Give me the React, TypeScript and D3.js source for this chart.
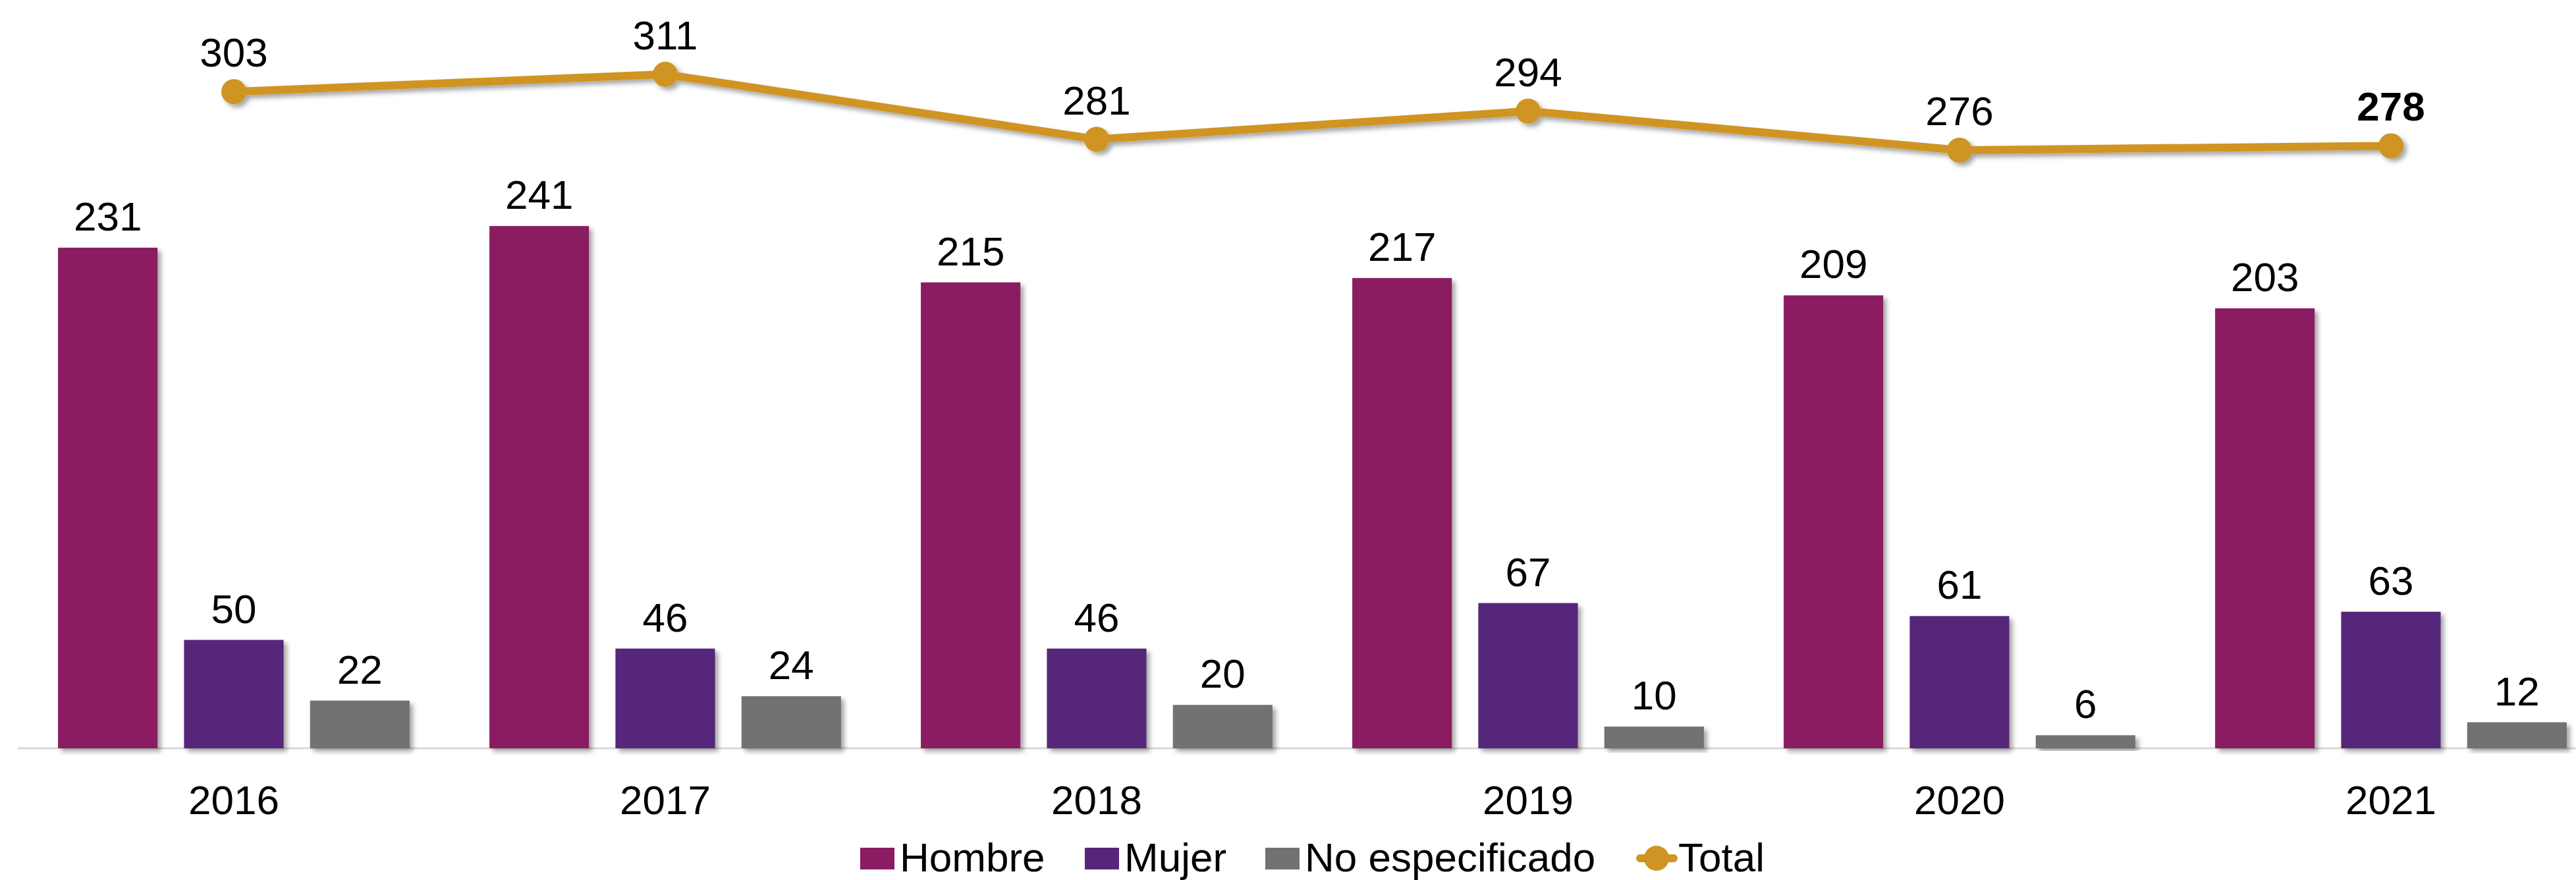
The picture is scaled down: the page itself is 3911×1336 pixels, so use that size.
import React from 'react'
import { scaleBand, scaleLinear, line } from 'd3'

const years = ['2016', '2017', '2018', '2019', '2020', '2021']
const hombre = [231, 241, 215, 217, 209, 203]
const mujer = [50, 46, 46, 67, 61, 63]
const noEspecificado = [22, 24, 20, 10, 6, 12]
const total = [303, 311, 281, 294, 276, 278]

const seriesKeys = ['Hombre', 'Mujer', 'No especificado']
const seriesValues = [hombre, mujer, noEspecificado]
const colors = ['#8B1C62', '#57267A', '#727272']
const totalColor = '#CF9424'

const W = 3911
const H = 1336
const FONT = '"Liberation Sans", Arial, sans-serif'

const App = () => {
    const baseline = 1136

    const yScale = scaleLinear()
        .domain([0, 345])
        .range([baseline, 1])

    // chart area runs a little past the right edge, like the original
    const x0 = scaleBand()
        .domain(years)
        .range([27.5, 27.5 + 655 * 6])
        .paddingInner(0.185)
        .paddingOuter(0.0925)

    const x1 = scaleBand()
        .domain(seriesKeys)
        .range([0, x0.bandwidth()])
        .paddingInner(0.21)

    const center = (year) => x0(year) + x0.bandwidth() / 2

    const totalLine = line()
        .x((d, i) => center(years[i]))
        .y(d => yScale(d))

    const legendItems = [
        { label: 'Hombre', x: 1306, color: colors[0] },
        { label: 'Mujer', x: 1647, color: colors[1] },
        { label: 'No especificado', x: 1921, color: colors[2] },
    ]

    return (
        <svg width={W} height={H} style={{ position: 'absolute', left: 0, top: 0, background: '#fff' }}>
            <defs>
                <filter id="shadow" x="-20%" y="-20%" width="140%" height="140%">
                    <feDropShadow dx="5" dy="5" stdDeviation="3.5" floodColor="#000" floodOpacity="0.35" />
                </filter>
            </defs>

            <line x1={27} x2={W} y1={baseline} y2={baseline} stroke="#D9D9D9" strokeWidth={3} />

            {years.map((year, i) => (
                <g key={year} transform={`translate(${x0(year)},0)`}>
                    {seriesKeys.map((key, s) => {
                        const v = seriesValues[s][i]
                        return (
                            <g key={key}>
                                <rect
                                    x={x1(key)}
                                    y={yScale(v)}
                                    width={x1.bandwidth()}
                                    height={baseline - yScale(v)}
                                    fill={colors[s]}
                                    filter="url(#shadow)"
                                />
                                <text
                                    x={x1(key) + x1.bandwidth() / 2}
                                    y={yScale(v) - 26}
                                    textAnchor="middle"
                                    fontFamily={FONT}
                                    fontSize={62}
                                    fill="#000"
                                >{v}</text>
                            </g>
                        )
                    })}
                    <text
                        x={x0.bandwidth() / 2}
                        y={1236}
                        textAnchor="middle"
                        fontFamily={FONT}
                        fontSize={62}
                        fill="#000"
                    >{year}</text>
                </g>
            ))}

            <g filter="url(#shadow)">
                <path d={totalLine(total)} fill="none" stroke={totalColor} strokeWidth={12} strokeLinejoin="round" />
                {total.map((v, i) => (
                    <circle key={i} cx={center(years[i])} cy={yScale(v)} r={19} fill={totalColor} />
                ))}
            </g>
            {total.map((v, i) => (
                <text
                    key={i}
                    x={center(years[i])}
                    y={yScale(v) - 38}
                    textAnchor="middle"
                    fontFamily={FONT}
                    fontSize={62}
                    fontWeight={i === total.length - 1 ? 'bold' : 'normal'}
                    fill="#000"
                >{v}</text>
            ))}

            <g fontFamily={FONT} fontSize={62} fill="#000">
                {legendItems.map(item => (
                    <g key={item.label}>
                        <rect x={item.x} y={1287} width={52} height={33} fill={item.color} />
                        <text x={item.x + 60} y={1323}>{item.label}</text>
                    </g>
                ))}
                <line x1={2490} x2={2541} y1={1303} y2={1303} stroke={totalColor} strokeWidth={12} strokeLinecap="round" />
                <circle cx={2515} cy={1303} r={19} fill={totalColor} />
                <text x={2548} y={1323}>Total</text>
            </g>
        </svg>
    )
}

export default App
